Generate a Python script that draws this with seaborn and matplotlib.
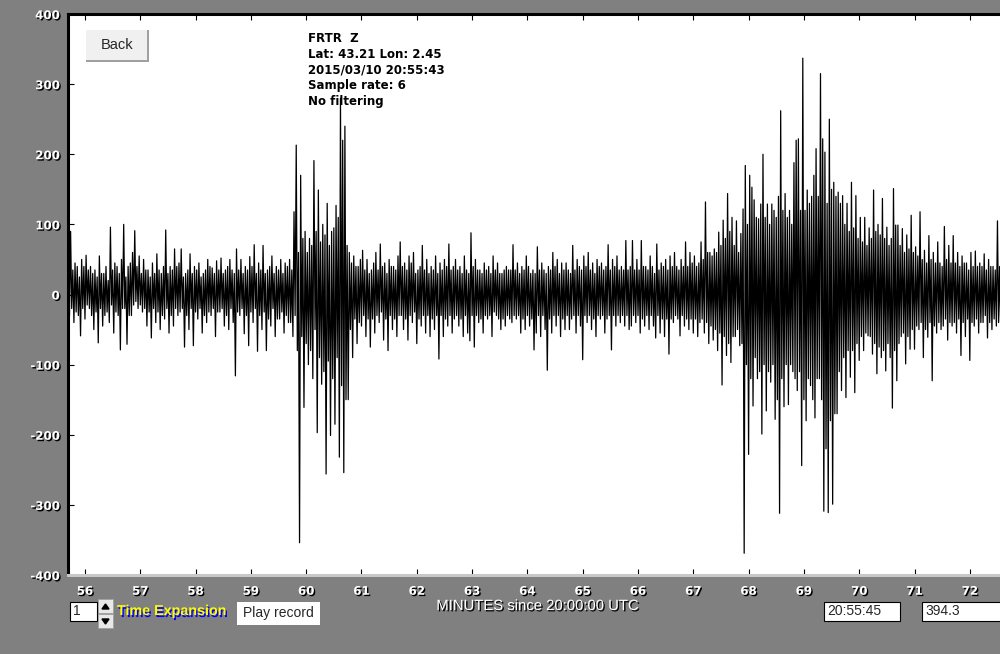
import numpy as np
import matplotlib
matplotlib.use('Agg')
import matplotlib.pyplot as plt
import matplotlib.patheffects as pe
from matplotlib.patches import Rectangle, Polygon
import seaborn as sns

# Seismogram in 0.04 min bins (about 2 px):
# for every bin the highest (hi_) and lowest (lo_) count, one pair of lists per minute.
t_start = 55.70
t_bin = 0.04

hi_5570 = [30, 90, 35, 45, 40, 25, 50, 40, 56, 35, 40, 30, 35, 25, 55, 30, 30, 40, 20, 96, 35, 45, 40, 30, 50]
lo_5570 = [-30, -20, -40, -25, -30, -59, -20, -35, -15, -20, -30, -50, -25, -69, -20, -45, -30, -25, -40, -15, -55, -25, -30, -79, -20]
hi_5670 = [100, 25, 40, 45, 60, 91, 40, 55, 30, 50, 35, 35, 25, 45, 30, 58, 35, 30, 40, 92, 30, 40, 35, 65, 40]
lo_5670 = [-20, -71, -30, -30, -15, -10, -20, -15, -25, -20, -45, -25, -62, -20, -40, -25, -50, -30, -35, -20, -55, -30, -45, -20, -30]
hi_5770 = [45, 65, 25, 30, 35, 58, 30, 40, 35, 45, 25, 30, 35, 50, 40, 38, 30, 48, 35, 52, 30, 35, 40, 50, 35]
lo_5770 = [-25, -20, -75, -30, -50, -20, -73, -25, -35, -20, -55, -30, -40, -25, -30, -20, -60, -25, -25, -20, -45, -30, -50, -20, -40]
hi_5870 = [30, 65, 35, 50, 30, 40, 35, 54, 40, 71, 30, 45, 35, 70, 30, 35, 40, 55, 30, 40, 35, 50, 30, 45, 40]
lo_5870 = [-116, -25, -30, -20, -56, -30, -73, -25, -40, -20, -81, -30, -50, -25, -80, -35, -45, -20, -60, -35, -35, -25, -55, -30, -40]
hi_5970 = [50, 35, 118, 213, 60, 170, 80, 90, 60, 80, 70, 191, 90, 149, 75, 100, 85, 130, 70, 90, 95, 127, 110, 280, 220]
lo_5970 = [-40, -60, -30, -80, -354, -60, -161, -70, -100, -80, -120, -50, -197, -90, -128, -110, -256, -95, -201, -120, -185, -90, -232, -130, -254]
hi_6070 = [240, 70, 60, 45, 55, 40, 40, 50, 63, 35, 50, 30, 35, 45, 60, 35, 72, 40, 45, 30, 50, 40, 40, 35, 55]
lo_6070 = [-150, -150, -50, -90, -35, -70, -40, -45, -30, -60, -35, -75, -35, -55, -30, -40, -25, -65, -35, -80, -30, -50, -35, -60, -30]
hi_6170 = [75, 40, 45, 35, 55, 45, 60, 30, 35, 40, 70, 35, 50, 30, 40, 35, 55, 30, 45, 35, 50, 40, 72, 35, 40]
lo_6170 = [-30, -50, -35, -65, -30, -40, -25, -70, -35, -45, -30, -55, -30, -60, -35, -50, -30, -92, -30, -60, -35, -45, -30, -55, -35]
hi_6270 = [50, 35, 40, 30, 55, 35, 30, 88, 40, 50, 35, 35, 30, 45, 35, 40, 30, 55, 35, 45, 30, 30, 35, 40, 35]
lo_6270 = [-30, -45, -35, -60, -30, -55, -66, -30, -75, -30, -40, -35, -55, -30, -35, -30, -60, -25, -30, -35, -50, -35, -45, -30, -35]
hi_6370 = [35, 71, 35, 45, 30, 40, 35, 55, 40, 30, 35, 30, 68, 35, 45, 35, 30, 40, 35, 60, 40, 50, 30, 45, 35]
lo_6370 = [-40, -30, -35, -30, -55, -35, -50, -30, -45, -35, -79, -55, -30, -60, -30, -50, -108, -35, -55, -30, -45, -30, -60, -35, -50]
hi_6470 = [45, 35, 30, 70, 35, 50, 40, 35, 55, 40, 60, 35, 45, 30, 50, 40, 45, 35, 40, 71, 35, 50, 40, 55, 35]
lo_6470 = [-30, -50, -35, -30, -55, -30, -45, -93, -30, -40, -30, -50, -35, -60, -30, -35, -30, -55, -35, -30, -79, -30, -45, -30, -40]
hi_6570 = [40, 35, 77, 35, 40, 77, 35, 50, 35, 77, 40, 40, 35, 55, 40, 30, 72, 35, 45, 40, 50, 35, 55, 40, 60]
lo_6570 = [-30, -45, -30, -50, -45, -30, -40, -30, -55, -35, -45, -30, -50, -30, -45, -62, -30, -55, -35, -60, -35, -85, -35, -40, -30]
hi_6670 = [40, 35, 50, 40, 75, 40, 60, 45, 55, 40, 45, 75, 50, 132, 60, 60, 55, 65, 60, 89, 70, 106, 80, 144, 90]
lo_6670 = [-35, -59, -30, -45, -35, -50, -35, -55, -35, -60, -40, -35, -55, -40, -70, -45, -65, -50, -80, -55, -129, -60, -87, -70, -97]
hi_6770 = [110, 70, 105, 60, 87, 122, 184, 100, 170, 153, 135, 110, 108, 129, 200, 110, 129, 100, 129, 120, 110, 140, 262, 120, 144]
lo_6770 = [-60, -60, -50, -73, -70, -369, -100, -228, -120, -159, -90, -120, -110, -199, -100, -166, -110, -125, -100, -178, -150, -312, -120, -160, -100]
hi_6870 = [110, 120, 100, 188, 220, 222, 120, 337, 120, 149, 130, 140, 170, 208, 140, 315, 222, 203, 130, 250, 150, 160, 140, 146, 130]
lo_6870 = [-157, -100, -110, -120, -137, -110, -244, -150, -180, -120, -130, -150, -176, -120, -120, -150, -309, -220, -311, -180, -299, -170, -170, -110, -137]
hi_6970 = [141, 100, 130, 90, 160, 95, 141, 80, 110, 75, 110, 70, 95, 80, 149, 90, 100, 85, 137, 80, 96, 70, 80, 151, 99]
lo_6970 = [-90, -147, -80, -118, -80, -140, -70, -94, -60, -80, -55, -59, -60, -85, -70, -113, -75, -90, -80, -109, -70, -90, -162, -80, -123]
hi_7070 = [99, 70, 94, 60, 85, 65, 113, 60, 68, 55, 118, 50, 63, 45, 84, 50, 60, 45, 75, 45, 40, 97, 50, 70, 45]
lo_7070 = [-70, -60, -55, -99, -60, -78, -50, -78, -45, -50, -40, -90, -50, -61, -40, -123, -45, -55, -40, -50, -45, -35, -65, -40, -45]
hi_7170 = [84, 45, 60, 40, 55, 45, 45, 35, 60, 40, 62, 40, 45, 40, 58, 35, 50, 40, 40, 35, 105, 40, 50, 60, 40]
lo_7170 = [-40, -55, -35, -87, -40, -60, -35, -94, -40, -45, -35, -55, -40, -40, -30, -62, -40, -50, -35, -45, -40, -56, -104, -40, -40]

hi_all = (hi_5570 + hi_5670 + hi_5770 + hi_5870 + hi_5970 + hi_6070 + hi_6170 + hi_6270 + hi_6370
          + hi_6470 + hi_6570 + hi_6670 + hi_6770 + hi_6870 + hi_6970 + hi_7070 + hi_7170)
lo_all = (lo_5570 + lo_5670 + lo_5770 + lo_5870 + lo_5970 + lo_6070 + lo_6170 + lo_6270 + lo_6370
          + lo_6470 + lo_6570 + lo_6670 + lo_6770 + lo_6870 + lo_6970 + lo_7070 + lo_7170)

# trace goes max -> min inside each bin, like the min/max drawing of the original program
counts = np.column_stack((hi_all, lo_all)).ravel().astype(float)
minutes = t_start + (t_bin / 2) * np.arange(len(counts))

y_ticks = list(range(-400, 401, 100))
x_ticks = list(range(56, 73))
info_lines = ["FRTR  Z", "Lat: 43.21 Lon: 2.45", "2015/03/10 20:55:43",
              "Sample rate: 6", "No filtering"]

W, H = 1000, 654
GREY = '#808080'

sns.set_style('white')
plt.rcParams['font.family'] = ['Liberation Sans', 'DejaVu Sans']
plt.rcParams['axes.unicode_minus'] = False

fig = plt.figure(figsize=(W / 100, H / 100), dpi=100, facecolor=GREY)
ax = fig.add_axes([68 / W, 1 - 575 / H, (W - 68) / W, 561 / H])
ax.set_facecolor('white')

sns.lineplot(x=minutes, y=counts, ax=ax, color='black', lw=0.9,
             estimator=None, sort=False)

ax.set_xlim(55.693, 72.546)
ax.set_ylim(-400, 400)
ax.set_xticks(x_ticks)
ax.set_yticks(y_ticks)
ax.set_xlabel('')
ax.set_ylabel('')

for side in ['left', 'top']:
    ax.spines[side].set_color('black')
    ax.spines[side].set_linewidth(2.2)
ax.spines['bottom'].set_color('#c8c8c8')
ax.spines['bottom'].set_linewidth(2.2)
ax.spines['right'].set_visible(False)

ax.tick_params(axis='both', direction='in', length=4.5, width=0.8, color='black',
               labelcolor='white')
ax.tick_params(axis='x', top=True, bottom=True, pad=7)
ax.tick_params(axis='y', left=True, pad=6)

shadow = [pe.SimplePatchShadow(offset=(1, -1), shadow_rgbFace='black', alpha=1), pe.Normal()]
for lbl in ax.get_xticklabels() + ax.get_yticklabels():
    lbl.set_fontfamily('DejaVu Sans')
    lbl.set_fontweight('bold')
    lbl.set_fontsize(8.5)
    lbl.set_path_effects(shadow)


def fx(x):
    return x / W


def fy(y):
    return 1 - y / H


def box(x0, y0, x1, y1, face, edge='none', lw=1.0):
    fig.add_artist(Rectangle((fx(x0), fy(y1)), (x1 - x0) / W, (y1 - y0) / H,
                             transform=fig.transFigure, facecolor=face,
                             edgecolor=edge, lw=lw, zorder=5))


# station info block
for i, line in enumerate(info_lines):
    fig.text(fx(308), fy(38 + 16 * i), line, fontsize=8.5, fontweight='bold',
             family='DejaVu Sans', color='black', ha='left', va='center', zorder=6)

# Back button
box(86, 30, 149, 62, '#a0a0a0')
box(86, 30, 147, 60, '#f0f0f0')
fig.text(fx(117), fy(45), 'Back', fontsize=10.5, ha='center', va='center', zorder=6)

# time expansion spinner
box(70, 602, 97, 621, 'white', 'black', 0.8)
fig.text(fx(73), fy(611), '1', fontsize=10, ha='left', va='center', zorder=6)
box(98, 599, 113, 613, '#e8e8e8', '#a0a0a0', 0.6)
box(98, 614, 113, 628, '#e8e8e8', '#a0a0a0', 0.6)
fig.add_artist(Polygon([(fx(102), fy(609)), (fx(109), fy(609)), (fx(105.5), fy(604))],
                       transform=fig.transFigure, color='black', zorder=6))
fig.add_artist(Polygon([(fx(102), fy(619)), (fx(109), fy(619)), (fx(105.5), fy(624))],
                       transform=fig.transFigure, color='black', zorder=6))
fig.text(fx(117), fy(611), 'Time Expansion', fontsize=10.3, fontweight='bold',
         color='yellow', ha='left', va='center', zorder=6,
         path_effects=[pe.SimplePatchShadow(offset=(1, -1.5), shadow_rgbFace='#0000ff', alpha=1),
                       pe.Normal()])

# Play record button
box(237, 602, 320, 625, 'white')
fig.text(fx(278), fy(613), 'Play record', fontsize=10, ha='center', va='center', zorder=6)

fig.text(fx(538), fy(606), 'MINUTES since 20:00:00 UTC', fontsize=10.7, color='white',
         ha='center', va='center', zorder=6, path_effects=shadow)

# readout boxes
box(824, 602, 900, 621, 'white', 'black', 0.8)
fig.text(fx(827), fy(611), '20:55:45', fontsize=10, ha='left', va='center', zorder=6)
box(922, 602, 1005, 621, 'white', 'black', 0.8)
fig.text(fx(925), fy(611), '394.3', fontsize=10, ha='left', va='center', zorder=6)

fig.savefig('out.png', dpi=100, facecolor=GREY)
